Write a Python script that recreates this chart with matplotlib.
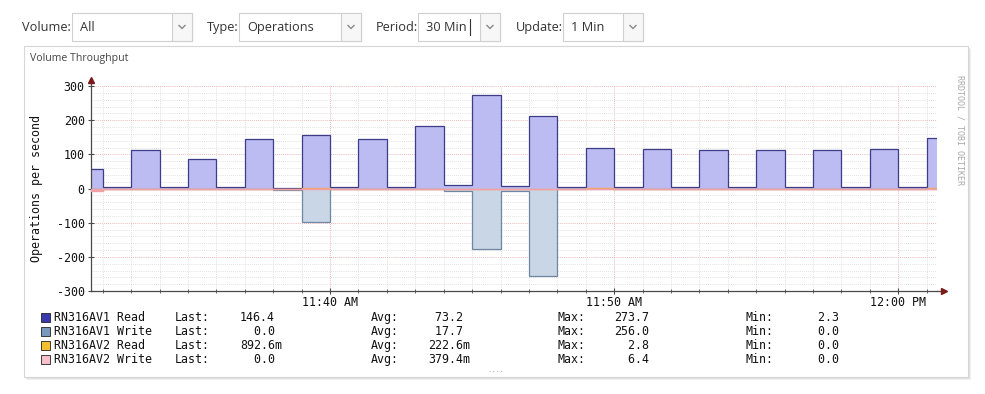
import numpy as np
import matplotlib
matplotlib.use("Agg")
import matplotlib.pyplot as plt
from matplotlib.patches import Rectangle
from matplotlib.ticker import MultipleLocator

plt.rcParams['font.family'] = ['DejaVu Sans Mono']
plt.rcParams['axes.unicode_minus'] = False

# ---------------- data ----------------
times = ["11:31", "11:32", "11:33", "11:34", "11:35", "11:36", "11:37", "11:38",
         "11:39", "11:40", "11:41", "11:42", "11:43", "11:44", "11:45", "11:46",
         "11:47", "11:48", "11:49", "11:50", "11:51", "11:52", "11:53", "11:54",
         "11:55", "11:56", "11:57", "11:58", "11:59", "12:00", "12:01"]
av1_read = [58, 3.5, 113, 3.5, 87, 3.5, 145, 2.3, 158, 3.5, 146, 4, 182, 9, 274, 6,
            213, 3.5, 119, 3.5, 116.5, 3.5, 114, 3.5, 114, 3.5, 114, 3.5, 116.5, 3.5, 146.4]
av1_write = [0, 0, 0, 0, 0, 0, 0, 4, 98, 0, 0, 0, 0, 7, 176, 7,
             256, 0, 0, 0, 0, 0, 0, 0, 0, 0, 0, 0, 0, 0, 0]
av2_read = [0, 0, 0, 0, 0, 0, 0, 0, 2.0, 0, 0, 0, 0, 0, 0, 0,
            0, 0, 2.8, 0, 0, 0, 0, 0, 0, 0, 0, 0, 0, 0, 0.9]
av2_write = [6.4, 0, 0, 0, 0, 0, 0, 0, 0, 0, 0, 0, 0, 0, 0, 0,
             0, 0, 0, 0, 0, 0, 0, 0, 0, 0, 0, 0, 0, 0, 0]
x_range = ("11:31:35", "12:01:22")
tick_times = ["11:40", "11:50", "12:00"]
tick_labels = ["11:40 AM", "11:50 AM", "12:00 PM"]
y_ticks = [-300, -200, -100, 0, 100, 200, 300]

series_names = ["RN316AV1 Read", "RN316AV1 Write", "RN316AV2 Read", "RN316AV2 Write"]
last_vals = ["146.4", "  0.0", "892.6m", "  0.0"]
avg_vals = [" 73.2", " 17.7", "222.6m", "379.4m"]
max_vals = ["273.7", "256.0", "  2.8", "  6.4"]
min_vals = ["  2.3", "  0.0", "  0.0", "  0.0"]

dropdown_labels = ["Volume:", "Type:", "Period:", "Update:"]
dropdown_values = ["All", "Operations", "30 Min", "1 Min"]


def to_min(s):
    parts = [int(p) for p in s.split(":")]
    m = (parts[0] - 11) * 60 + parts[1]
    if len(parts) > 2:
        m += parts[2] / 60.0
    return m


starts = np.array([to_min(t) for t in times], dtype=float)
edges = np.append(starts, starts[-1] + 1)

# ---------------- colours ----------------
read_fill = "#bcbcf2"
read_line = "#3c3c88"
write_fill = "#c8d6e6"
write_line = "#6f87a2"
av2r_col = "#f0a860"
av2w_col = "#f2a0a8"
leg_cols = ["#3a3ab0", "#7898bc", "#f4c030", "#f8c0cc"]

W, H = 985, 394
fig = plt.figure(figsize=(W / 100, H / 100), dpi=100)
fig.patch.set_facecolor("white")

bg = fig.add_axes([0, 0, 1, 1], zorder=0)
bg.set_xlim(0, W)
bg.set_ylim(H, 0)
bg.axis("off")

# ---- top controls ----
ui_font = "Open Sans"
lab_x = [22, 207, 376, 516]
box_x = [(72, 192), (239, 361), (418, 500), (563, 643)]
for lbl, val, lx, (b0, b1) in zip(dropdown_labels, dropdown_values, lab_x, box_x):
    bg.text(lx, 27, lbl, family=ui_font, fontsize=9.2, color="#333333", va="center", ha="left")
    bg.add_patch(Rectangle((b0, 13), b1 - b0, 28, facecolor="white", edgecolor="#cfcfcf", lw=0.8))
    bg.add_patch(Rectangle((b1 - 20, 13), 20, 28, facecolor="#f7f7f7", edgecolor="#cfcfcf", lw=0.8))
    cx = b1 - 10
    bg.plot([cx - 3, cx, cx + 3], [25.5, 28.5, 25.5], color="#8a8a8a", lw=1.0)
    bg.text(b0 + 8, 27, val, family=ui_font, fontsize=9.2, color="#333333", va="center", ha="left")
bg.plot([470, 470], [19, 35], color="#333333", lw=0.8)

# ---- panel ----
for off, col in [(3, "#f0f0f0"), (2, "#e2e2e2"), (1, "#d0d0d0")]:
    bg.add_patch(Rectangle((24 + off, 46 + off), 944, 331, facecolor=col, edgecolor="none"))
bg.add_patch(Rectangle((24, 46), 944, 331, facecolor="white", edgecolor="#d6d6d6", lw=0.8))
bg.text(30, 58, "Volume Throughput", family=ui_font, fontsize=7.6, color="#444444",
        va="center", ha="left")

# ---- plot axes ----
x0, x1, y_top, y_bot = 91, 937, 86, 291
ax = fig.add_axes([x0 / W, 1 - y_bot / H, (x1 - x0) / W, (y_bot - y_top) / H], zorder=1)
ax.set_facecolor("white")
ax.set_xlim(to_min(x_range[0]), to_min(x_range[1]))
ax.set_ylim(-300, 300)

ax.xaxis.set_minor_locator(MultipleLocator(1))
ax.yaxis.set_minor_locator(MultipleLocator(20))
ax.set_xticks([to_min(t) for t in tick_times], tick_labels)
ax.set_yticks(y_ticks)
ax.set_axisbelow(True)
ax.grid(which="minor", color="#d8d8d8", linestyle=(0, (1, 1.5)), lw=0.6)
ax.grid(which="major", color="#e6a0a0", linestyle=(0, (1, 1.5)), lw=0.6)

ax.stairs(av1_read, edges, baseline=0, fill=True, color=read_fill, zorder=2)
ax.stairs(av1_read, edges, baseline=0, color=read_line, lw=0.9, zorder=3)
neg_w = -np.array(av1_write, dtype=float)
ax.stairs(neg_w, edges, baseline=0, fill=True, color=write_fill, zorder=2)
ax.stairs(neg_w, edges, baseline=0, color=write_line, lw=0.9, zorder=3)
ax.stairs(av2_read, edges, baseline=0, fill=True, color=av2r_col, zorder=4)
ax.stairs(av2_read, edges, baseline=0, color=av2r_col, lw=1.0, zorder=4)
neg_w2 = -np.array(av2_write, dtype=float)
ax.stairs(neg_w2, edges, baseline=0, fill=True, color=av2w_col, zorder=4)
ax.stairs(neg_w2, edges, baseline=0, color=av2w_col, lw=1.0, zorder=5)

for s in ["top", "right"]:
    ax.spines[s].set_visible(False)
for s in ["left", "bottom"]:
    ax.spines[s].set_color("#4a4a4a")
    ax.spines[s].set_linewidth(0.9)
ax.tick_params(which="major", direction="inout", length=5, width=0.8, color="#4a4a4a",
               labelsize=8.4, labelcolor="#111111", pad=2)
ax.tick_params(which="minor", direction="inout", length=2.5, width=0.6, color="#4a4a4a")
ax.tick_params(axis="y", which="minor", length=0)
ax.tick_params(axis="x", pad=1)

# axis arrows
ax.plot([0, 0], [1, 1 + 6 / (y_bot - y_top)], transform=ax.transAxes, color="#4a4a4a",
        lw=0.9, clip_on=False)
ax.plot([0], [1 + 6 / (y_bot - y_top)], transform=ax.transAxes, marker="^", ms=4,
        color="#7a1a1a", clip_on=False)
ax.plot([1, 1 + 7 / (x1 - x0)], [0, 0], transform=ax.transAxes, color="#4a4a4a",
        lw=0.9, clip_on=False)
ax.plot([1 + 7 / (x1 - x0)], [0], transform=ax.transAxes, marker=">", ms=4,
        color="#7a1a1a", clip_on=False)

ax.set_ylabel("Operations per second", fontsize=8.4, color="#111111", labelpad=10)

# right side vertical credit
bg.text(960, 130, "RRDTOOL / TOBI OETIKER", rotation=270, fontsize=6, color="#a8a8a8",
        ha="center", va="center")

# ---- legend table ----
row_y = [317, 331, 345, 359]
fs = 8.4
for i in range(4):
    y = row_y[i] + 4
    bg.add_patch(Rectangle((41, row_y[i] - 4.5), 9, 9, facecolor=leg_cols[i],
                           edgecolor="#222222", lw=0.6))
    for xx, txt in [(54, series_names[i]), (175, "Last:"), (240, last_vals[i]),
                    (371, "Avg:"), (428, avg_vals[i]), (558, "Max:"), (614, max_vals[i]),
                    (746, "Min:"), (804, min_vals[i])]:
        bg.text(xx, y, txt, fontsize=fs, va="baseline", ha="left", color="#111111")

bg.text(496, 370, "....", fontsize=5, color="#b0b0b0", ha="center", va="center")

fig.savefig("out.png", dpi=100)
